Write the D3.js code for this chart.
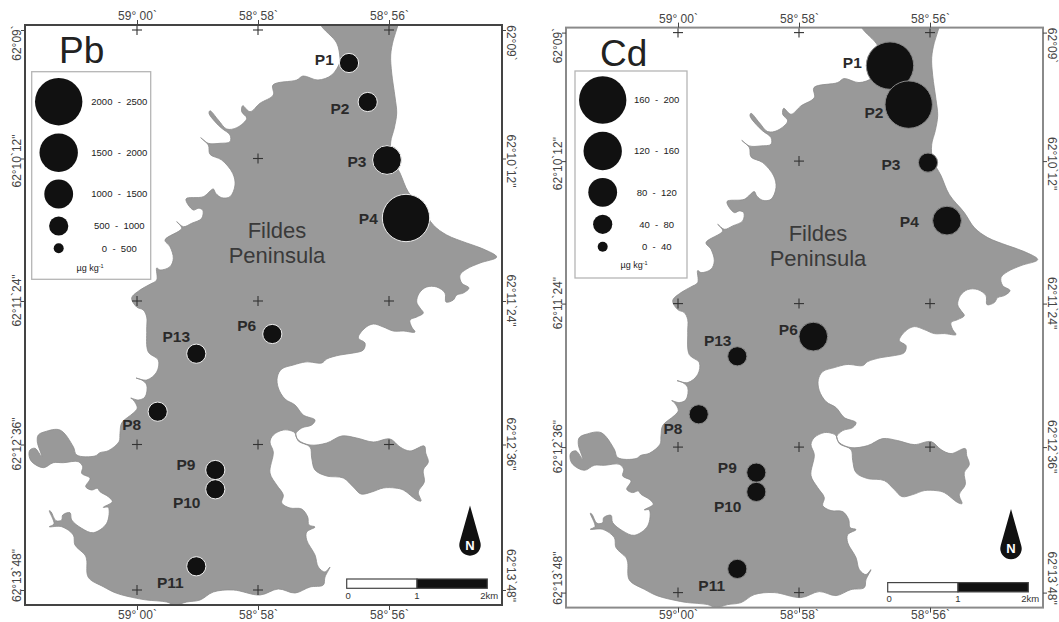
<!DOCTYPE html>
<html>
<head>
<meta charset="utf-8">
<script src="https://cdn.jsdelivr.net/npm/d3@7"></script>
<style>
  html, body { margin: 0; padding: 0; background: #fff; overflow: hidden; }
  text { font-family: "Liberation Sans", Arial, sans-serif; white-space: pre; }
</style>
</head>
<body>
<script>
// Sampling stations, map units are easting / northing of the Pb sheet
const stationIds = ["P1", "P2", "P3", "P4", "P6", "P13", "P8", "P9", "P10", "P11"];
const stationEast = [349, 367.7, 387, 406, 272.3, 196.3, 157.7, 215.3, 215.3, 196.3];
const stationNorth = [63, 102, 160, 218, 334, 353.7, 411.7, 470, 489.3, 566.3];
const pbValues = [720, 760, 1300, 2300, 680, 700, 710, 650, 640, 700];
const cdValues = [185, 190, 60, 100, 95, 55, 58, 52, 50, 56];

const pbBreaks = [500, 1000, 1500, 2000, 2500];
const cdBreaks = [40, 80, 120, 160, 200];

const lonMinutes = [0, 2, 4];
const lonLabels = ["59° 00`", "58° 58`", "58° 56`"];
const latSeconds = [0, 72, 144, 216, 288];
const latLabels = ["62°09`", "62°10`12\"", "62°11`24\"", "62°12`36\"", "62°13`48\""];

// graticule crosses as [lon index, lat index]
const crossCells = [[0, 0], [1, 0], [2, 0], [1, 1], [0, 2], [1, 2], [2, 2], [0, 3], [1, 3], [2, 3], [0, 4], [1, 4]];

const scaleKm = [0, 1, 2];

// coastline of the peninsula, clockwise from the north edge
const coastline = [
  [400, 15], [398, 25], [393.3, 40], [390.7, 55], [391.7, 73], [395, 97], [396.7, 113], [394.3, 128],
  [390.7, 142], [391.7, 157], [400, 173], [408.3, 192], [423.3, 210], [433.3, 225], [446.7, 235],
  [466.7, 243], [483.3, 249], [496.7, 257], [480, 263], [466.7, 269], [460, 275], [461.7, 283], [469, 288],
  [463.3, 293], [456.7, 295], [453.3, 300], [446, 302], [445, 293], [436.7, 287], [426.7, 287], [419.3, 293],
  [416.7, 302], [420, 308], [423.3, 313], [416.7, 317], [410, 320], [411.7, 327], [415, 332], [403.3, 331],
  [393.3, 331], [383.3, 327], [373.3, 324], [365, 328], [358.3, 338], [365, 343], [363.3, 350], [353.3, 353],
  [340, 355], [326.7, 359], [321.7, 363], [310, 362], [305, 362], [293.3, 365], [281.7, 369], [277.3, 377],
  [278.3, 388], [285, 399], [295, 405], [303.3, 415], [315, 420], [311.7, 425], [301.7, 428], [295.7, 434],
  [298.3, 440], [310, 445], [326.7, 443], [341.7, 436], [356.7, 438], [373.3, 442], [390, 439], [400, 447],
  [410, 451], [424.3, 446], [425.7, 453], [428.3, 462], [423.3, 470], [424.3, 482], [418.3, 492], [421, 501],
  [416.7, 500], [403.3, 490], [395, 488], [383.3, 488], [371.7, 492], [361, 494], [353.3, 487], [343.3, 478],
  [326.7, 476], [315, 470], [311.7, 458], [310, 447], [298.3, 441], [295, 433], [291.7, 431], [283.3, 430],
  [273.3, 435], [270, 442], [273.3, 452], [270, 473], [276.7, 485], [283.3, 495], [281.7, 503], [290, 508],
  [301.7, 509], [307.7, 517], [309, 525], [315, 527], [306.7, 532], [306.7, 540], [315, 555], [318.3, 567],
  [325, 572], [330, 567], [325, 577], [323.3, 585], [310, 587], [295, 593], [278.3, 589], [260, 595],
  [233.3, 590], [213.3, 592], [200, 600], [186.7, 602], [175, 605], [166.7, 602], [146.7, 600], [136.7, 598.3],
  [116.7, 593.3], [103.3, 586.7], [88.3, 577.3], [86.7, 560], [85, 555], [75, 545], [73.3, 535], [61.7, 526.7],
  [49.3, 526.7], [54, 524], [49.3, 510.7], [51, 511.7], [56, 520.7], [61.7, 520], [62.7, 515], [70, 512.7],
  [71.7, 520], [81.7, 528.3], [93.3, 532.7], [106.7, 523.3], [108.3, 507.3], [103.3, 507.3], [112.3, 501.7],
  [108.3, 496.7], [100, 491.7], [97.3, 488.3], [91.7, 490], [85.7, 486.7], [90, 478.3], [81.7, 473.3],
  [82.7, 466.7], [78.3, 461.7], [63.3, 462.7], [53.3, 462.7], [43.3, 467.7], [31.7, 461.7], [29, 455], [30, 450],
  [35, 448.3], [41.7, 456.7], [37.3, 441.7], [38.3, 435], [45, 431.7], [60, 430], [73.3, 446.7], [76.7, 455],
  [95, 456], [100, 452.7], [108.3, 450.7], [119, 441.7], [120, 433.3], [121.7, 423], [133.3, 413], [137.3, 408],
  [133.3, 400], [130.7, 398], [138.3, 400], [145, 397], [146.7, 385], [141.7, 380], [136, 378], [146.7, 380],
  [156.7, 372], [158.3, 360], [148.3, 352], [146.7, 330], [146.7, 317], [143.3, 310], [136.7, 307], [131.7, 298],
  [140, 290], [150, 284.3], [156.7, 280], [156.7, 268], [160, 270], [170, 266.7], [173.3, 258.3], [170, 246.7],
  [165, 240], [181.7, 228.3], [176.7, 221.7], [183.3, 226.7], [191.7, 223.3], [201.7, 218.3], [202.7, 210],
  [198.3, 208.3], [193.3, 210], [186, 199], [203.3, 196.7], [213.3, 189], [215.7, 193.3], [221.7, 197.7],
  [230, 196.7], [235, 185], [232.7, 173.3], [221.7, 160], [210, 154.3], [208.3, 145], [200.7, 137.7],
  [208.3, 143.3], [220, 143.3], [230, 141.7], [230, 135], [221.7, 128.3], [215, 121.7], [209, 113.3], [210, 110.7],
  [218.3, 120], [226.7, 129], [236.7, 127.7], [246.7, 118.3], [241.7, 111.7], [242.7, 105.7], [250, 111.7],
  [260, 103.3], [273.3, 95], [273, 85], [296.7, 80], [303, 76], [318, 80], [331.7, 75], [340, 62], [340, 58],
  [336.7, 43], [320.7, 25], [318, 15]
];

const radii = [5, 9.6, 14.4, 19.2, 23.7];

const width = 1059, height = 622;
const mapLeft = 25, mapRight = 502, mapTop = 25, mapBottom = 605;

const svg = d3.select("body").append("svg")
  .attr("width", width)
  .attr("height", height)
  .style("display", "block");

svg.append("defs").selectAll("clipPath")
  .data(["pb", "cd"])
  .join("clipPath")
  .attr("id", d => "frame-" + d)
  .append("rect")
  .attr("x", (d, i) => mapLeft + (i ? 541 : 0))
  .attr("y", (d, i) => mapTop + (i ? 2.6 : 0))
  .attr("width", mapRight - mapLeft)
  .attr("height", mapBottom - mapTop);

function drawPanel(p) {
  const x = d3.scaleLinear().domain([mapLeft, mapRight]).range([mapLeft + p.dx, mapRight + p.dx]);
  const y = d3.scaleLinear().domain([mapTop, mapBottom]).range([mapTop + p.dy, mapBottom + p.dy]);
  const lon = d3.scaleLinear().domain(lonMinutes).range([137, 258, 389].map(x));
  const lat = d3.scaleLinear().domain(latSeconds).range([30, 158.5, 301, 444.5, 590].map(y));
  const r = d3.scaleThreshold().domain(p.breaks.slice(0, 4)).range(radii);

  const g = svg.append("g");

  // land
  const coast = d3.line().x(d => x(d[0])).y(d => y(d[1])).curve(d3.curveCatmullRomClosed.alpha(0.5));
  g.append("path")
    .attr("d", coast(coastline))
    .attr("clip-path", `url(#frame-${p.id})`)
    .attr("fill", "#999")
    .attr("stroke", "#8c8c8c")
    .attr("stroke-width", 0.8);

  // crosses
  const cross = g.append("g").attr("stroke", "#333").attr("stroke-width", 1.1);
  crossCells.forEach(c => {
    const cx = lon(lonMinutes[c[0]]), cy = lat(latSeconds[c[1]]);
    cross.append("line").attr("x1", cx - 5).attr("x2", cx + 5).attr("y1", cy).attr("y2", cy);
    cross.append("line").attr("x1", cx).attr("x2", cx).attr("y1", cy - 5).attr("y2", cy + 5);
  });

  // frame
  g.append("rect")
    .attr("x", x(mapLeft)).attr("y", y(mapTop))
    .attr("width", x(mapRight) - x(mapLeft)).attr("height", y(mapBottom) - y(mapTop))
    .attr("fill", "none")
    .attr("stroke", p.frame)
    .attr("stroke-width", 2);

  // longitude axes
  const fmtLon = (d, i) => lonLabels[i];
  [[d3.axisTop(lon).tickPadding(0), y(mapTop)], [d3.axisBottom(lon).tickPadding(p.bottomPad), y(mapBottom)]].forEach(a => {
    const ax = g.append("g")
      .attr("transform", `translate(0,${a[1]})`)
      .call(a[0].tickValues(lonMinutes).tickFormat(fmtLon).tickSize(5));
    ax.select(".domain").remove();
    ax.selectAll("line").attr("stroke", "#444");
    ax.selectAll("text").attr("font-size", 12).attr("fill", "#444");
  });

  // latitude axes, ticks only, labels do not sit on their ticks in the original
  [[d3.axisLeft(lat), x(mapLeft)], [d3.axisRight(lat), x(mapRight)]].forEach(a => {
    const ax = g.append("g")
      .attr("transform", `translate(${a[1]},0)`)
      .call(a[0].tickValues(latSeconds).tickFormat("").tickSize(4));
    ax.select(".domain").remove();
    ax.selectAll("line").attr("stroke", "#444");
  });
  const latLabelY = [43, 161, 300.5, 444, 575.5];
  latLabels.forEach((t, i) => {
    g.append("text")
      .attr("transform", `translate(${x(20.7)},${y(latLabelY[i])}) rotate(-90)`)
      .attr("text-anchor", "middle").attr("font-size", 12).attr("fill", "#444")
      .text(t);
    g.append("text")
      .attr("transform", `translate(${x(507)},${y(latLabelY[i])}) rotate(90)`)
      .attr("text-anchor", "middle").attr("font-size", 12).attr("fill", "#444")
      .text(t);
  });

  // place name
  g.append("text").attr("x", x(277)).attr("y", y(238))
    .attr("text-anchor", "middle").attr("font-size", 22).attr("fill", "#3a3a3a").text("Fildes");
  g.append("text").attr("x", x(277)).attr("y", y(263))
    .attr("text-anchor", "middle").attr("font-size", 22).attr("fill", "#3a3a3a").text("Peninsula");

  // stations
  g.append("g").selectAll("circle")
    .data(stationIds)
    .join("circle")
    .attr("cx", (d, i) => x(stationEast[i]))
    .attr("cy", (d, i) => y(stationNorth[i]))
    .attr("r", (d, i) => r(p.values[i]))
    .attr("fill", "#111")
    .attr("stroke", p.ring)
    .attr("stroke-width", 1);

  g.append("g").selectAll("text")
    .data(stationIds)
    .join("text")
    .attr("x", (d, i) => p.labels[i][0])
    .attr("y", (d, i) => p.labels[i][1])
    .attr("dy", "0.36em")
    .attr("text-anchor", "middle")
    .attr("font-size", 15.5)
    .attr("font-weight", "bold")
    .attr("fill", "#2a2a2a")
    .text(d => d);

  // title
  g.append("text").attr("x", p.titleX).attr("y", p.titleY)
    .attr("font-size", 37).attr("fill", "#222").text(p.title);

  // legend
  g.append("rect")
    .attr("x", p.box[0]).attr("y", p.box[1]).attr("width", p.box[2]).attr("height", p.box[3])
    .attr("fill", "#fff").attr("stroke", "#b5b5b5").attr("stroke-width", 1.3);
  const rows = d3.range(5).reverse();
  rows.forEach((k, i) => {
    g.append("circle").attr("cx", p.legendX).attr("cy", p.legendY[i])
      .attr("r", radii[k]).attr("fill", "#111");
    const lo = k === 0 ? 0 : p.breaks[k - 1];
    g.append("text").attr("x", p.legendTextX).attr("y", p.legendY[i]).attr("dy", "0.36em")
      .attr("text-anchor", "middle").attr("font-size", 9.5).attr("fill", "#222")
      .text(`${lo}  -  ${p.breaks[k]}`);
  });
  const unit = g.append("text").attr("x", p.unit[0]).attr("y", p.unit[1]).attr("dy", "0.36em")
    .attr("text-anchor", "middle").attr("font-size", 9).attr("fill", "#222").text("µg kg");
  unit.append("tspan").attr("font-size", 5.5).attr("dy", -3).text("-1");

  // scale bar
  const km = d3.scaleLinear().domain([0, 2]).range([x(346.7), x(487.3)]);
  const barY = y(579) + p.barShift, barH = 9.3;
  g.append("g").selectAll("rect")
    .data(scaleKm.slice(0, 2))
    .join("rect")
    .attr("x", d => km(d)).attr("y", barY)
    .attr("width", d => km(d + 1) - km(d)).attr("height", barH)
    .attr("fill", d => d ? "#111" : "#fff")
    .attr("stroke", "#444").attr("stroke-width", 1.2);
  g.append("g").selectAll("text")
    .data(scaleKm)
    .join("text")
    .attr("x", d => km(d) + (d === 2 ? 2 : d === 0 ? 1.5 : 0))
    .attr("y", barY + 19.5)
    .attr("text-anchor", "middle")
    .attr("font-size", 9.5).attr("fill", "#333")
    .text(d => d === 2 ? "2km" : d);

  // north arrow
  const nx = x(470), ny = y(545) + p.barShift;
  const tip = d3.path();
  tip.moveTo(0, -39.5);
  tip.lineTo(-10.3, -3);
  tip.arc(0, 0, 10.7, Math.PI + 0.28, -0.28, true);
  tip.closePath();
  const north = g.append("g").attr("transform", `translate(${nx},${ny})`);
  north.append("path").attr("d", tip.toString()).attr("fill", "#111");
  north.append("text").attr("y", 4.6).attr("text-anchor", "middle")
    .attr("font-size", 13).attr("font-weight", "bold").attr("fill", "#fff").text("N");
}

drawPanel({
  id: "pb", title: "Pb", values: pbValues, breaks: pbBreaks,
  dx: 0, dy: 0, frame: "#444", ring: "#eee", barShift: 0, bottomPad: 0.5,
  titleX: 59, titleY: 62.7,
  box: [31.7, 71.7, 119, 207.6],
  legendX: 58.7, legendY: [101.7, 152.7, 194, 226, 248.3], legendTextX: 119.3, unit: [90, 267.7],
  labels: [[324.3, 59.5], [340, 108.5], [357, 161], [368.3, 218], [246.7, 325.7],
    [176.3, 336.7], [131.7, 424.7], [186, 464.3], [186.7, 502.7], [170.3, 582]]
});

drawPanel({
  id: "cd", title: "Cd", values: cdValues, breaks: cdBreaks,
  dx: 541, dy: 2.6, frame: "#8a8a8a", ring: "#888", barShift: 1, bottomPad: -2,
  titleX: 600, titleY: 65.7,
  box: [575, 71, 112, 207],
  legendX: 602.7, legendY: [100, 151, 192.3, 224.3, 246.7], legendTextX: 656.7, unit: [634, 265],
  labels: [[852.3, 62.3], [874, 112.3], [891, 164], [909.3, 221.7], [788.3, 329.3],
    [717.7, 340.3], [673, 428.3], [727.3, 467.7], [727.7, 506.3], [711.7, 585.3]]
});
</script>
</body>
</html>
